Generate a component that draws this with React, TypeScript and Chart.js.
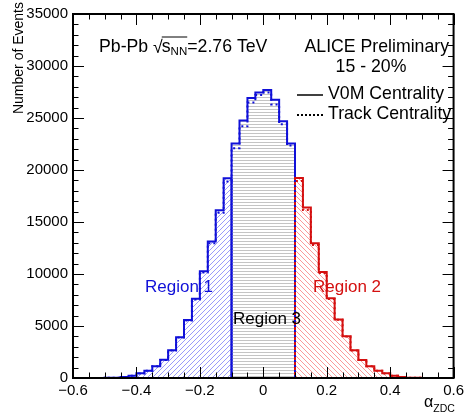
import React, { useEffect, useRef } from "react";
import { Chart, registerables } from "chart.js";

Chart.register(...registerables);

// Histogram definition: 48 bins of width 0.025 from -0.6 to 0.6
const BIN_MIN = -0.6;
const BIN_WIDTH = 0.025;
const X_MIN = -0.6;
const X_MAX = 0.6;
const Y_MIN = 0;
const Y_MAX = 35000;

// Region boundaries in alpha_ZDC
const REGION_LOW = -0.1;
const REGION_HIGH = 0.1;

// V0M centrality, counts per bin
const v0mCounts = [
  0, 0, 0, 5, 15, 30, 95, 210, 447, 694, 1141, 1760,
  2663, 3928, 5582, 7620, 10271, 13124, 16139, 19211, 22539, 24755, 26913, 27455,
  27703, 26752, 24697, 22539, 19240, 16386, 12962, 10204, 7675, 5630, 4023, 2663,
  1740, 1141, 694, 447, 219, 95, 30, 15, 5, 0, 0, 0,
];

// Track centrality, counts per bin
const trackCounts = [
  0, 0, 0, 5, 15, 30, 95, 210, 440, 690, 1130, 1740,
  2640, 3890, 5530, 7550, 10150, 12950, 15900, 18900, 22100, 24200, 26500, 27200,
  27450, 26300, 24400, 22350, 18950, 16150, 12800, 10100, 7600, 5590, 3990, 2640,
  1730, 1130, 690, 440, 215, 95, 30, 15, 5, 0, 0, 0,
];

const xTickLabels = ["−0.6", "−0.4", "−0.2", "0", "0.2", "0.4", "0.6"];
const yTickStep = 5000;
const xTickStep = 0.2;

const BLUE = "#1010d8";
const RED = "#d41010";
const FONT = "'Liberation Sans', Arial, Helvetica, sans-serif";

function makeHatch(kind: string, color: string): CanvasPattern | string {
  const size = kind === "h" ? 3 : 5;
  const c = document.createElement("canvas");
  c.width = size;
  c.height = size;
  const g = c.getContext("2d");
  if (!g) return "rgba(0,0,0,0)";
  g.fillStyle = color;
  if (kind === "h") {
    g.fillRect(0, 1, size, 1);
  } else {
    for (let i = 0; i < size; i++) {
      const px = kind === "/" ? size - 1 - i : i;
      g.fillRect(px, i, 1, 1);
    }
  }
  const p = g.createPattern(c, "repeat");
  return p || color;
}

function stepPoints(values: number[], keep: (center: number) => boolean) {
  const pts = values.map((v, i) => {
    const left = BIN_MIN + i * BIN_WIDTH;
    const center = left + BIN_WIDTH / 2;
    return { x: left, y: keep(center) ? v : 0 };
  });
  pts.push({ x: BIN_MIN + values.length * BIN_WIDTH, y: 0 });
  return pts;
}

const decorPlugin = {
  id: "decor",
  afterDatasetsDraw(chart: any) {
    const { ctx, chartArea: a, scales } = chart;
    const xs = scales.x;
    const ys = scales.y;
    ctx.save();
    ctx.strokeStyle = "#000";
    ctx.lineWidth = 1;
    ctx.beginPath();
    for (let k = 0; k <= 24; k++) {
      const v = X_MIN + k * 0.05;
      const px = Math.round(xs.getPixelForValue(v)) + 0.5;
      const len = k % 4 === 0 ? 11 : 5.5;
      ctx.moveTo(px, a.bottom);
      ctx.lineTo(px, a.bottom - len);
      ctx.moveTo(px, a.top);
      ctx.lineTo(px, a.top + len);
    }
    for (let k = 0; k <= 35; k++) {
      const v = Y_MIN + k * 1000;
      const py = Math.round(ys.getPixelForValue(v)) + 0.5;
      const len = k % 5 === 0 ? 11 : 5.5;
      ctx.moveTo(a.left, py);
      ctx.lineTo(a.left + len, py);
      ctx.moveTo(a.right, py);
      ctx.lineTo(a.right - len, py);
    }
    ctx.stroke();
    ctx.lineWidth = 2;
    ctx.strokeRect(a.left, a.top, a.right - a.left, a.bottom - a.top);
    ctx.restore();
  },
  afterDraw(chart: any) {
    const { ctx } = chart;
    ctx.save();
    ctx.fillStyle = "#000";
    ctx.textBaseline = "alphabetic";
    const big = `17.7px ${FONT}`;

    // Pb-Pb sqrt(s_NN) = 2.76 TeV
    let x = 99;
    const yb = 52;
    ctx.font = big;
    ctx.textAlign = "left";
    ctx.fillText("Pb-Pb ", x, yb);
    x += ctx.measureText("Pb-Pb ").width;
    ctx.fillText("√", x, yb + 1);
    x += ctx.measureText("√").width - 1;
    const barStart = x;
    ctx.fillText("s", x, yb);
    x += ctx.measureText("s").width;
    ctx.font = `11.5px ${FONT}`;
    ctx.fillText("NN", x, yb + 3);
    x += ctx.measureText("NN").width;
    ctx.strokeStyle = "#000";
    ctx.lineWidth = 1;
    ctx.beginPath();
    ctx.moveTo(barStart, yb - 15);
    ctx.lineTo(x, yb - 15);
    ctx.stroke();
    ctx.font = big;
    ctx.fillText("=2.76 TeV", x, yb);

    ctx.textAlign = "right";
    ctx.fillText("ALICE Preliminary", 449, 52);
    ctx.textAlign = "center";
    ctx.fillText("15 - 20%", 371, 72);

    // legend
    ctx.textAlign = "left";
    ctx.fillText("V0M Centrality", 328, 99);
    ctx.fillText("Track Centrality", 328, 119);
    ctx.lineWidth = 1.5;
    ctx.beginPath();
    ctx.moveTo(297, 95);
    ctx.lineTo(323, 95);
    ctx.stroke();
    ctx.setLineDash([2, 2]);
    ctx.lineWidth = 2;
    ctx.beginPath();
    ctx.moveTo(297, 115);
    ctx.lineTo(323, 115);
    ctx.stroke();
    ctx.setLineDash([]);

    // region labels
    ctx.font = `17px ${FONT}`;
    ctx.fillStyle = BLUE;
    ctx.fillText("Region 1", 145, 292);
    ctx.fillStyle = RED;
    ctx.fillText("Region 2", 313, 292);
    ctx.fillStyle = "#000";
    ctx.fillText("Region 3", 233, 324);

    // x title alpha_ZDC
    ctx.font = `16px ${FONT}`;
    ctx.fillText("α", 424, 407);
    const ax = 424 + ctx.measureText("α").width;
    ctx.font = `10.5px ${FONT}`;
    ctx.fillText("ZDC", ax, 412);

    // y title
    ctx.font = `14px ${FONT}`;
    ctx.translate(23, 2);
    ctx.rotate(-Math.PI / 2);
    ctx.textAlign = "right";
    ctx.fillText("Number of Events", 0, 0);
    ctx.restore();
  },
};

export default function App() {
  const ref = useRef<HTMLCanvasElement | null>(null);

  useEffect(() => {
    if (!ref.current) return;
    const blueHatch = makeHatch("/", "#9a9afa");
    const redHatch = makeHatch("\\", "#fa9a9a");
    const grayHatch = makeHatch("h", "#c4c4c4");

    const inR1 = (c: number) => c < REGION_LOW;
    const inR3 = (c: number) => c > REGION_LOW && c < REGION_HIGH;
    const inR2 = (c: number) => c > REGION_HIGH;
    const leftOfHigh = (c: number) => c < REGION_HIGH;

    const common = {
      stepped: "before" as const,
      pointRadius: 0,
      borderWidth: 2,
      tension: 0,
    };

    const chart = new Chart(ref.current, {
      type: "line",
      data: {
        datasets: [
          {
            ...common,
            label: "Track Centrality (region 2)",
            data: stepPoints(trackCounts, inR2),
            borderColor: RED,
            borderDash: [2, 3],
            fill: false,
          },
          {
            ...common,
            label: "Track Centrality",
            data: stepPoints(trackCounts, leftOfHigh),
            borderColor: BLUE,
            borderDash: [2, 3],
            fill: false,
          },
          {
            ...common,
            label: "Region 2",
            data: stepPoints(v0mCounts, inR2),
            borderColor: RED,
            backgroundColor: redHatch as any,
            fill: "origin",
          },
          {
            ...common,
            label: "Region 3",
            data: stepPoints(v0mCounts, inR3),
            borderColor: BLUE,
            backgroundColor: grayHatch as any,
            fill: "origin",
          },
          {
            ...common,
            label: "Region 1",
            data: stepPoints(v0mCounts, inR1),
            borderColor: BLUE,
            backgroundColor: blueHatch as any,
            fill: "origin",
          },
        ],
      },
      options: {
        responsive: false,
        animation: false,
        devicePixelRatio: 1,
        layout: { padding: { top: 10, right: 13, left: 0, bottom: 0 } },
        plugins: {
          legend: { display: false },
          tooltip: { enabled: false },
        },
        scales: {
          x: {
            type: "linear",
            min: X_MIN,
            max: X_MAX,
            grid: { display: false, drawTicks: false },
            border: { display: false },
            ticks: {
              stepSize: xTickStep,
              padding: 4,
              maxRotation: 0,
              autoSkip: false,
              color: "#000",
              font: { family: FONT, size: 15 },
              callback: (v: any) => {
                const idx = Math.round((Number(v) - X_MIN) / xTickStep);
                return xTickLabels[idx] ?? "";
              },
            },
            afterFit: (s: any) => {
              s.height = 39;
            },
          },
          y: {
            type: "linear",
            min: Y_MIN,
            max: Y_MAX,
            grid: { display: false, drawTicks: false },
            border: { display: false },
            ticks: {
              stepSize: yTickStep,
              padding: 5,
              color: "#000",
              font: { family: FONT, size: 15 },
              callback: (v: any) => String(Math.round(Number(v))),
            },
            afterFit: (s: any) => {
              s.width = 73;
            },
          },
        },
      },
      plugins: [decorPlugin],
    });
    return () => chart.destroy();
  }, []);

  return (
    <div style={{ position: "absolute", left: 0, top: 0, width: 468, height: 417, background: "#fff" }}>
      <canvas ref={ref} width={468} height={417} style={{ display: "block", width: 468, height: 417 }} />
    </div>
  );
}
